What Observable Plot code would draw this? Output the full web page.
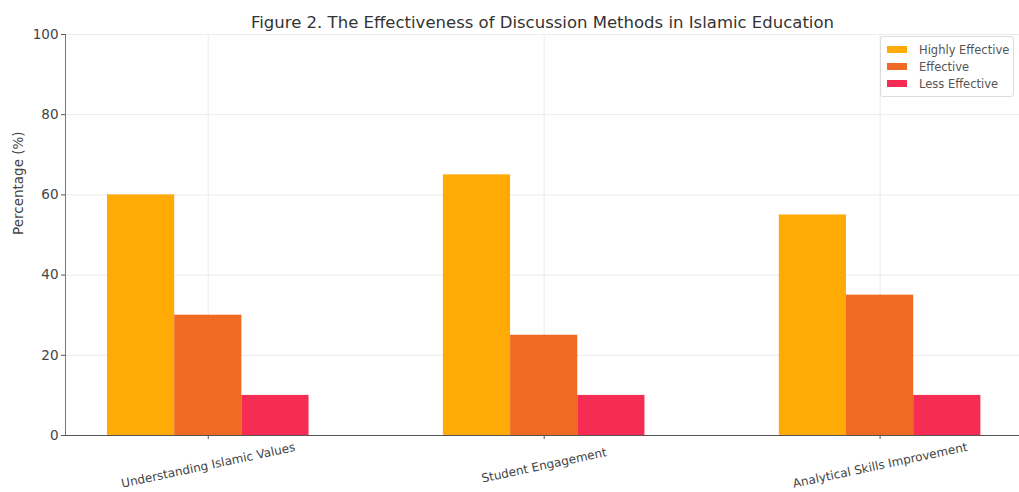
<!DOCTYPE html>
<html><head><meta charset="utf-8">
<script src="https://cdn.jsdelivr.net/npm/d3@7"></script>
<script src="https://cdn.jsdelivr.net/npm/@observablehq/plot@0.6"></script>
<style>
body{margin:0;background:#fff;font-family:"DejaVu Sans",sans-serif;}
#wrap{position:relative;width:1019px;height:492px;overflow:hidden;}
.legend{position:absolute;left:880px;top:36px;width:134px;height:61px;border:1px solid #dcdcdc;border-radius:3px;background:rgba(255,255,255,0.85);box-sizing:border-box;font-size:11.5px;color:#555;padding-top:4px;}
.legend .row{display:flex;align-items:center;height:17px;}
.legend .sw{width:20px;height:7px;margin-left:6px;margin-right:12px;}
</style>
</head><body>
<div id="wrap"></div>
<script>
const categories = ["Understanding Islamic Values", "Student Engagement", "Analytical Skills Improvement"];
const series = ["Highly Effective", "Effective", "Less Effective"];
const highlyEffective = [60, 65, 55];
const effective = [30, 25, 35];
const lessEffective = [10, 10, 10];
const colors = ["#ffaa05", "#f06a24", "#f62c55"];
const yTicks = [0, 20, 40, 60, 80, 100];
const title = "Figure 2. The Effectiveness of Discussion Methods in Islamic Education";
const yLabel = "Percentage (%)";

const seriesValues = [highlyEffective, effective, lessEffective];
const barWidth = 0.2;
const rows = [];
categories.forEach((c, ci) => {
  series.forEach((s, si) => {
    const center = ci + (si - 1) * barWidth;
    rows.push({category: c, series: s, value: seriesValues[si][ci], x1: center - barWidth / 2, x2: center + barWidth / 2});
  });
});

const chart = Plot.plot({
  width: 1019,
  height: 492,
  marginLeft: 65,
  marginRight: 0,
  marginTop: 34,
  marginBottom: 57,
  x: {domain: [-0.425, 2.415]},
  y: {domain: [0, 100]},
  color: {domain: series, range: colors},
  style: {fontFamily: "DejaVu Sans", fontSize: "11px", color: "#444", background: "white"},
  marks: [
    Plot.gridY(yTicks, {stroke: "#ebebeb", strokeOpacity: 1}),
    Plot.gridX([0, 1, 2], {stroke: "#ebebeb", strokeOpacity: 1}),
    Plot.rectY(rows, {x1: "x1", x2: "x2", y1: 0, y2: "value", fill: "series"}),
    Plot.frame({anchor: "left", stroke: "#777"}),
    Plot.frame({anchor: "bottom", stroke: "#555"}),
    Plot.axisY({ticks: yTicks, tickSize: 4, tickPadding: 3, label: null, fontSize: 13.5, stroke: "#555"}),
    Plot.axisX({ticks: [0, 1, 2], tickFormat: i => categories[i], tickSize: 4, tickRotate: -12, textAnchor: "middle", lineAnchor: "middle", tickPadding: 26, label: null, fontSize: 12, stroke: "#555"}),
    Plot.text([yLabel], {frameAnchor: "left", dx: -47, rotate: -90, fontSize: 13.5, fill: "#444"}),
    Plot.text([title], {frameAnchor: "top", dy: -18, fontSize: 16.5, fill: "#333"})
  ]
});
const wrap = document.getElementById("wrap");
wrap.appendChild(chart);
const legend = document.createElement("div");
legend.className = "legend";
series.forEach((s, i) => {
  const row = document.createElement("div");
  row.className = "row";
  const sw = document.createElement("span");
  sw.className = "sw";
  sw.style.background = colors[i];
  const t = document.createElement("span");
  t.textContent = s;
  row.appendChild(sw);
  row.appendChild(t);
  legend.appendChild(row);
});
wrap.appendChild(legend);
</script>
</body></html>
